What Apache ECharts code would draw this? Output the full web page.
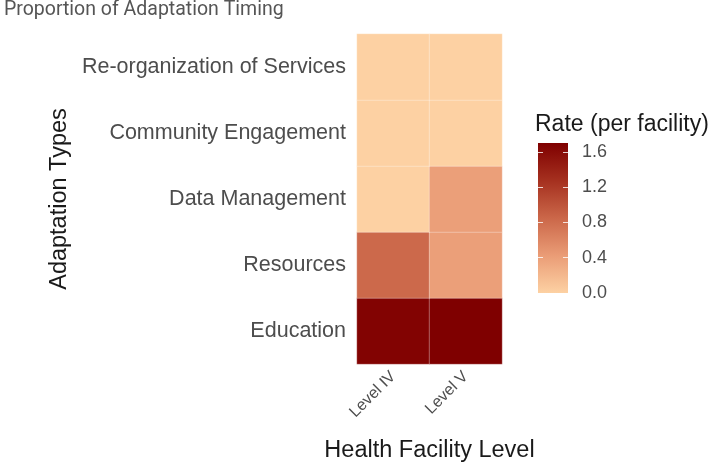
<!DOCTYPE html>
<html>
<head>
<meta charset="utf-8">
<script src="https://cdn.jsdelivr.net/npm/echarts@6/dist/echarts.min.js"></script>
<style>
  html, body { margin: 0; padding: 0; background: #fff; }
  #chart { width: 718px; height: 468px; }
</style>
</head>
<body>
<div id="chart"></div>
<script>
// 数据
var levels = ['Level IV', 'Level V'];
var adaptationTypes = ['Education', 'Resources', 'Data Management', 'Community Engagement', 'Re-organization of Services'];
var levelIV = [1.67, 0.83, 0, 0, 0];
var levelV = [1.70, 0.40, 0.40, 0, 0];
var legendTicks = [0, 0.4, 0.8, 1.2, 1.6];
var rateMin = 0;
var rateMax = 1.70;

// 颜色渐变
var rampColors = ['#FDD1A3', '#EA9C76', '#CB6749', '#A5301F', '#7F0000'];

var cells = [];
adaptationTypes.forEach(function (t, i) {
  cells.push([0, i, levelIV[i]]);
  cells.push([1, i, levelV[i]]);
});

var stops = rampColors.map(function (c, i) {
  return { offset: i / (rampColors.length - 1), color: c };
});

var chart = echarts.init(document.getElementById('chart'));
var labelFont = 'Liberation Sans';

var option = {
  animation: false,
  title: [{
    text: 'Proportion of Adaptation Timing',
    left: -1,
    top: -5,
    textStyle: { fontSize: 19.5, fontWeight: 'normal', color: '#555', fontFamily: 'Roboto' }
  }, {
    text: 'Rate (per facility)',
    left: 530,
    top: 108,
    textStyle: { fontSize: 23, fontWeight: 'normal', color: '#1a1a1a', fontFamily: labelFont }
  }],
  grid: [
    { left: 357, top: 34, width: 145, height: 334 },
    { left: 538, top: 143, width: 30, height: 150 }
  ],
  xAxis: [{
    type: 'category',
    gridIndex: 0,
    data: levels,
    axisLine: { show: false },
    axisTick: { show: false },
    splitLine: { show: false },
    axisLabel: { rotate: 45, fontSize: 16, color: '#4d4d4d', margin: 10, fontFamily: labelFont },
    name: 'Health Facility Level',
    nameLocation: 'middle',
    nameGap: 75,
    nameTextStyle: { fontSize: 23.5, color: '#1a1a1a', fontFamily: labelFont }
  }, {
    type: 'category',
    gridIndex: 1,
    data: [''],
    show: false
  }],
  yAxis: [{
    type: 'category',
    gridIndex: 0,
    data: adaptationTypes,
    axisLine: { show: false },
    axisTick: { show: false },
    splitLine: { show: false },
    axisLabel: { fontSize: 21.5, color: '#4d4d4d', margin: 11, fontFamily: labelFont },
    name: 'Adaptation Types',
    nameLocation: 'middle',
    nameRotate: 90,
    nameGap: 285,
    nameTextStyle: { fontSize: 23.5, color: '#1a1a1a', fontFamily: labelFont }
  }, {
    type: 'value',
    gridIndex: 1,
    position: 'right',
    min: rateMin,
    max: rateMax,
    z: 10,
    axisLine: { show: false },
    splitLine: { show: false },
    axisTick: { show: true, inside: true, length: 5, lineStyle: { color: 'rgba(255,255,255,0.8)' }, customValues: legendTicks },
    axisLabel: {
      fontSize: 18, color: '#4d4d4d', margin: 14, fontFamily: labelFont,
      customValues: legendTicks,
      formatter: function (v) { return v.toFixed(1); }
    }
  }, {
    type: 'value',
    gridIndex: 1,
    position: 'left',
    min: rateMin,
    max: rateMax,
    z: 10,
    axisLine: { show: false },
    splitLine: { show: false },
    axisLabel: { show: false },
    axisTick: { show: true, inside: true, length: 5, lineStyle: { color: 'rgba(255,255,255,0.8)' }, customValues: legendTicks }
  }],
  visualMap: {
    show: false,
    min: rateMin,
    max: rateMax,
    seriesIndex: 0,
    dimension: 2,
    inRange: { color: rampColors }
  },
  series: [{
    type: 'heatmap',
    xAxisIndex: 0,
    yAxisIndex: 0,
    data: cells,
    itemStyle: { borderColor: 'rgba(255,255,255,0.3)', borderWidth: 1 }
  }, {
    type: 'bar',
    xAxisIndex: 1,
    yAxisIndex: 1,
    barWidth: '100%',
    data: [rateMax],
    itemStyle: { color: new echarts.graphic.LinearGradient(0, 1, 0, 0, stops) }
  }]
};

chart.setOption(option);
</script>
</body>
</html>
